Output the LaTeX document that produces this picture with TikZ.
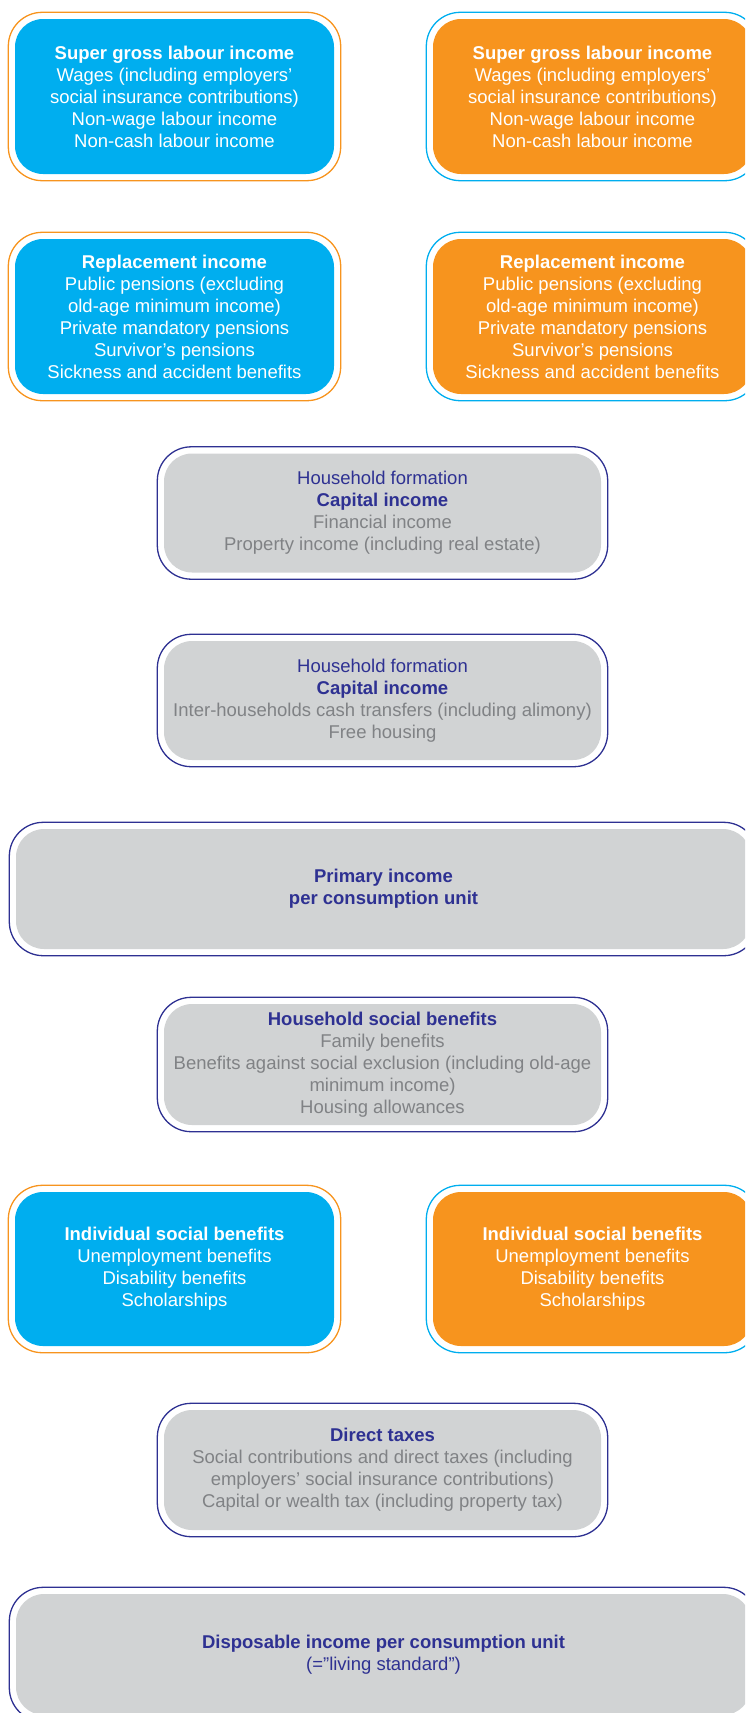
\documentclass[tikz,border=0pt]{standalone}
\usepackage{fontspec}
\setmainfont{Liberation Sans}
\usetikzlibrary{fit}
\definecolor{cyanblue}{HTML}{00AEEF}
\definecolor{brightorange}{HTML}{F7941E}
\definecolor{panelgrey}{HTML}{D1D3D4}
\definecolor{navyink}{HTML}{2E3192}
\definecolor{greyink}{HTML}{808285}
\newcommand{\hd}[1]{\textcolor{navyink}{\textbf{#1}}}
\newcommand{\nv}[1]{\textcolor{navyink}{#1}}
\begin{document}
\begin{tikzpicture}[x=1pt,y=-1pt,
    box/.style={rounded corners=28pt, align=center, inner sep=0pt,
      font=\fontsize{18.5}{22}\selectfont},
    bluebox/.style={box, fill=cyanblue, text=white,
      minimum width=319pt, minimum height=155pt},
    orangebox/.style={box, fill=brightorange, text=white,
      minimum width=319pt, minimum height=155pt},
    greybox/.style={box, fill=panelgrey, text=greyink,
      minimum width=437pt, minimum height=119pt},
    widebox/.style={box, fill=panelgrey, text=navyink,
      minimum width=735pt, minimum height=120pt},
    frame/.style={draw=#1, line width=1.3pt, rounded corners=34pt,
      inner sep=6.5pt}
  ]
    \useasboundingbox (0,0) rectangle (745,1713);
    \clip (0,0) rectangle (745,1713);

    % labour income
    \node[bluebox] (labourL) at (174.5,96.5) {\textbf{Super gross labour income}\\Wages (including employers’\\social insurance contributions)\\Non-wage labour income\\Non-cash labour income};
    \node[frame=brightorange, fit=(labourL)] {};
    \node[orangebox] (labourR) at (592.5,96.5) {\textbf{Super gross labour income}\\Wages (including employers’\\social insurance contributions)\\Non-wage labour income\\Non-cash labour income};
    \node[frame=cyanblue, fit=(labourR)] {};

    % replacement income
    \node[bluebox] (replaceL) at (174.5,316.5) {\textbf{Replacement income}\\Public pensions (excluding\\old-age minimum income)\\Private mandatory pensions\\Survivor’s pensions\\Sickness and accident benefits};
    \node[frame=brightorange, fit=(replaceL)] {};
    \node[orangebox] (replaceR) at (592.5,316.5) {\textbf{Replacement income}\\Public pensions (excluding\\old-age minimum income)\\Private mandatory pensions\\Survivor’s pensions\\Sickness and accident benefits};
    \node[frame=cyanblue, fit=(replaceR)] {};

    % capital income
    \node[greybox] (capitalA) at (382.5,513) {\nv{Household formation}\\\hd{Capital income}\\Financial income\\Property income (including real estate)};
    \node[frame=navyink, fit=(capitalA)] {};
    \node[greybox] (capitalB) at (382.5,700.5) {\nv{Household formation}\\\hd{Capital income}\\Inter-households cash transfers (including alimony)\\Free housing};
    \node[frame=navyink, fit=(capitalB)] {};

    % primary income
    \node[widebox] (primary) at (383.5,889) {\textbf{Primary income}\\\textbf{per consumption unit}};
    \node[frame=navyink, fit=(primary)] {};

    % household benefits
    \node[greybox, minimum height=121pt] (household) at (382.5,1064.5) {\hd{Household social benefits}\\Family benefits\\Benefits against social exclusion (including old-age\\minimum income)\\Housing allowances};
    \node[frame=navyink, fit=(household)] {};

    % individual benefits
    \node[bluebox, minimum height=154pt] (individualL) at (174.5,1269) {\textbf{Individual social benefits}\\Unemployment benefits\\Disability benefits\\Scholarships};
    \node[frame=brightorange, fit=(individualL)] {};
    \node[orangebox, minimum height=154pt] (individualR) at (592.5,1269) {\textbf{Individual social benefits}\\Unemployment benefits\\Disability benefits\\Scholarships};
    \node[frame=cyanblue, fit=(individualR)] {};

    % taxes
    \node[greybox, minimum height=120pt] (taxes) at (382.5,1470) {\hd{Direct taxes}\\Social contributions and direct taxes (including\\employers’ social insurance contributions)\\Capital or wealth tax (including property tax)};
    \node[frame=navyink, fit=(taxes)] {};

    % disposable income
    \node[widebox, minimum height=121pt] (disposable) at (383.5,1654.5) {\textbf{Disposable income per consumption unit}\\(=”living standard”)};
    \node[frame=navyink, fit=(disposable)] {};
\end{tikzpicture}
\end{document}
